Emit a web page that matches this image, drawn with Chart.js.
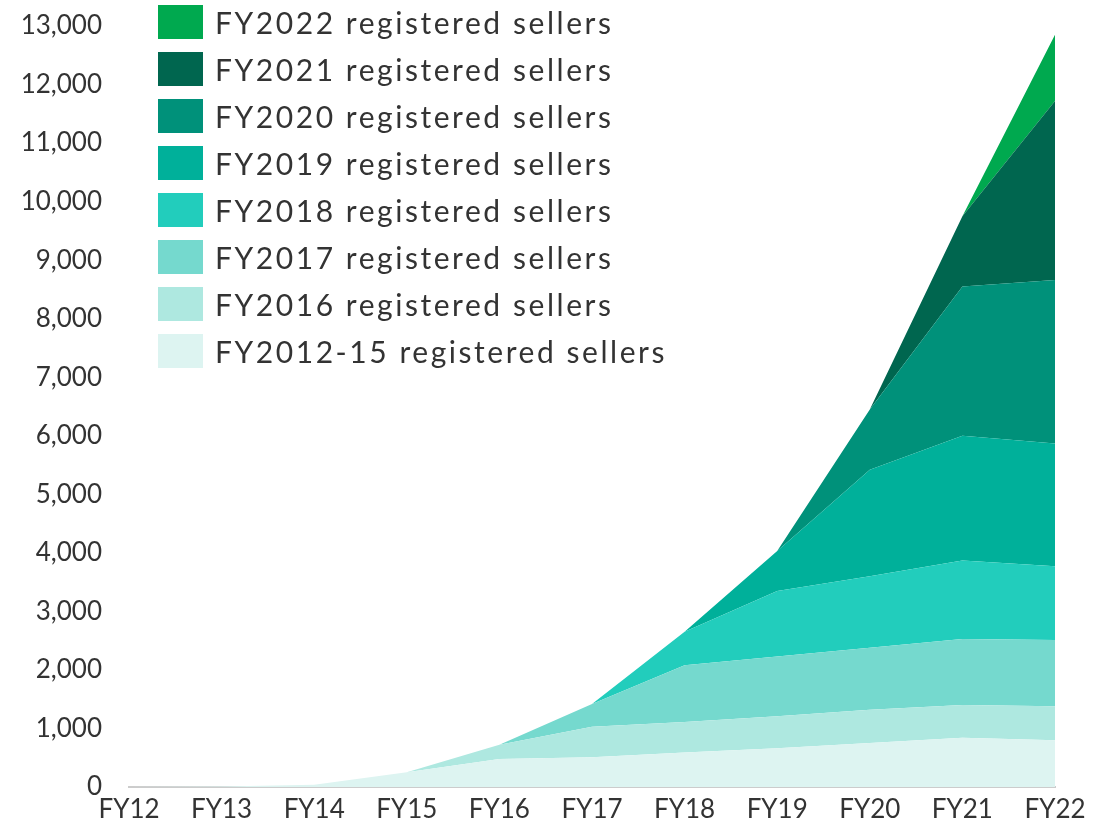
<!DOCTYPE html>
<html>
<head>
<meta charset="utf-8">
<script src="https://cdn.jsdelivr.net/npm/chart.js@4.4.1/dist/chart.umd.min.js"></script>
<style>
  html, body { margin: 0; padding: 0; background: #fff; }
  #wrap { position: relative; width: 1112px; height: 821px; }
  #legend { position: absolute; left: 158px; top: 5px; font-family: Lato, "Open Sans", sans-serif; font-size: 30px; color: #333; letter-spacing: 2.55px; }
  .row { display: flex; align-items: center; height: 34px; margin-bottom: 13px; white-space: nowrap; }
  .box { width: 45px; height: 34px; margin-right: 12px; flex: none; }
</style>
</head>
<body>
<div id="wrap">
  <canvas id="c" width="1112" height="821"></canvas>
  <div id="legend"></div>
</div>
<script>
const categories = ["FY12","FY13","FY14","FY15","FY16","FY17","FY18","FY19","FY20","FY21","FY22"];
const seriesNames = ["FY2012-15 registered sellers","FY2016 registered sellers","FY2017 registered sellers","FY2018 registered sellers","FY2019 registered sellers","FY2020 registered sellers","FY2021 registered sellers","FY2022 registered sellers"];
const seriesColors = ["#DDF4F1","#AEE8E0","#75D9CE","#22CDBC","#00B09A","#00917A","#00664F","#00A94F"];
const fy2012_15 = [0, 10, 40, 250, 480, 510, 590, 660, 750, 840, 800];
const fy2016    = [0, 0, 0, 0, 240, 520, 520, 550, 570, 560, 580];
const fy2017    = [0, 0, 0, 0, 0, 390, 970, 1020, 1060, 1130, 1130];
const fy2018    = [0, 0, 0, 0, 0, 0, 570, 1120, 1220, 1340, 1260];
const fy2019    = [0, 0, 0, 0, 0, 0, 0, 680, 1820, 2130, 2100];
const fy2020    = [0, 0, 0, 0, 0, 0, 0, 0, 1030, 2550, 2790];
const fy2021    = [0, 0, 0, 0, 0, 0, 0, 0, 0, 1200, 3060];
const fy2022    = [0, 0, 0, 0, 0, 0, 0, 0, 0, 0, 1130];
const yMax = 13000, yStep = 1000;

const seriesValues = [fy2012_15, fy2016, fy2017, fy2018, fy2019, fy2020, fy2021, fy2022];
const datasets = seriesValues.map((vals, i) => ({
  label: seriesNames[i],
  data: vals,
  backgroundColor: seriesColors[i],
  borderColor: seriesColors[i],
  borderWidth: 0,
  pointRadius: 0,
  tension: 0,
  fill: i === 0 ? 'origin' : '-1'
}));

const FONT = 'Lato, "Open Sans", sans-serif';
new Chart(document.getElementById('c'), {
  type: 'line',
  data: { labels: categories, datasets },
  options: {
    responsive: false,
    animation: false,
    layout: { padding: { top: 26, right: 57, left: 0, bottom: 0 } },
    plugins: { legend: { display: false }, tooltip: { enabled: false } },
    scales: {
      x: {
        offset: false,
        grid: { display: false, drawTicks: false },
        border: { display: true, color: '#cccccc', width: 2 },
        afterFit: s => { s.height = 34; s.paddingLeft = 0; s.paddingRight = 0; },
        ticks: { color: '#333', font: { family: FONT, size: 26, lineHeight: 1 }, padding: 10, maxRotation: 0, autoSkip: false }
      },
      y: {
        stacked: true,
        min: 0, max: yMax,
        grid: { display: false, drawTicks: false },
        border: { display: false },
        afterFit: s => { s.width = 129; s.paddingTop = 0; s.paddingBottom = 0; },
        ticks: { stepSize: yStep, color: '#333', font: { family: FONT, size: 26, lineHeight: 1 }, padding: 27,
          callback: v => v.toLocaleString('en-US') }
      }
    }
  }
});

const lg = document.getElementById('legend');
for (let i = seriesNames.length - 1; i >= 0; i--) {
  const r = document.createElement('div'); r.className = 'row';
  const b = document.createElement('div'); b.className = 'box'; b.style.background = seriesColors[i];
  const t = document.createElement('span'); t.textContent = seriesNames[i];
  r.appendChild(b); r.appendChild(t); lg.appendChild(r);
}
</script>
</body>
</html>
